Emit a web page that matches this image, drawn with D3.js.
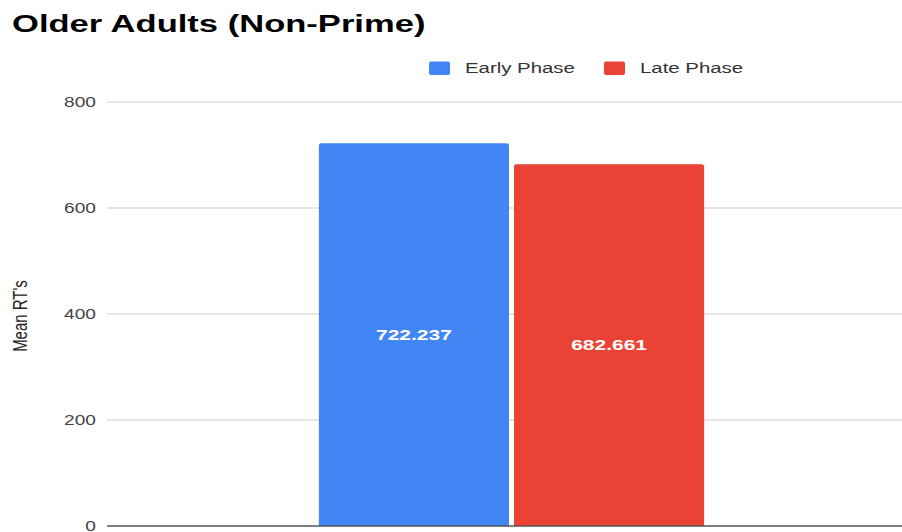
<!DOCTYPE html>
<html><head><meta charset="utf-8">
<script src="https://cdn.jsdelivr.net/npm/d3@7"></script>
<style>body{margin:0;background:#fff}svg{display:block}</style>
</head><body>
<svg id="c" width="902" height="532"></svg>
<script>
const categories = ["Older Adults (Non-Prime)"];
const seriesNames = ["Early Phase", "Late Phase"];
const seriesValues = [722.237, 682.661];
const seriesColors = ["#4285f4", "#ea4335"];
const yTicks = [0, 200, 400, 600, 800];
const titleText = "Older Adults (Non-Prime)";
const yAxisTitle = "Mean RT's";

(function () {
const svg = d3.select("#c");
const mLeft = 107, mRight = 916, mTop = 102, mBottom = 526;
const FONT = "Liberation Sans, Arial, sans-serif";

const y = d3.scaleLinear().domain([0, 800]).range([mBottom, mTop]);
const x0 = d3.scaleBand().domain(categories).range([mLeft, mRight]).paddingInner(0).paddingOuter(0.55);
const x1 = d3.scaleBand().domain(seriesNames).range([0, x0.bandwidth()]).paddingInner(0.0256);

// stretched text helper (reference is horizontally stretched)
function stext(parent, x, yy, str, opts) {
  const s = opts.sx || 1.38;
  const g = parent.append("g").attr("transform", `translate(${x},${yy}) scale(${s},1)` + (opts.rot ? ` rotate(${opts.rot})` : ""));
  return g.append("text").attr("x", 0).attr("y", 0)
    .attr("text-anchor", opts.anchor || "start")
    .attr("dy", opts.dy || null)
    .attr("font-family", FONT).attr("font-size", opts.size)
    .attr("font-weight", opts.bold ? "bold" : "normal")
    .attr("fill", opts.fill || "#000").text(str);
}

// title
stext(svg, 12, 32, titleText, {size: 24, bold: true, sx: 1.44, fill: "#000"});

// gridlines
svg.append("g").selectAll("line").data(yTicks.filter(d => d !== 0)).join("line")
  .attr("x1", mLeft).attr("x2", mRight).attr("y1", d => y(d)).attr("y2", d => y(d))
  .attr("stroke", "#cccccc").attr("stroke-width", 1);

// y tick labels
const tg = svg.append("g");
yTicks.forEach(d => stext(tg, 96, y(d), String(d), {size: 14.5, anchor: "end", dy: "0.36em", sx: 1.32, fill: "#444"}));

// y axis title
stext(svg, 20, 316, yAxisTitle, {size: 15, anchor: "middle", dy: "0.35em", rot: -90, sx: 1.38, fill: "#222"});

// bars
const r = 2.5;
function barPath(x, yTop, w, yBot) {
  return `M${x},${yBot}V${yTop + r}Q${x},${yTop} ${x + r},${yTop}H${x + w - r}Q${x + w},${yTop} ${x + w},${yTop + r}V${yBot}Z`;
}
const g = svg.append("g").attr("transform", `translate(${x0(categories[0])},0)`);
g.selectAll("path").data(seriesNames).join("path")
  .attr("d", (s, i) => barPath(x1(s), y(seriesValues[i]), x1.bandwidth(), y(0)))
  .attr("fill", (s, i) => seriesColors[i]);
seriesNames.forEach((s, i) => {
  stext(g, x1(s) + x1.bandwidth() / 2, (y(seriesValues[i]) + y(0)) / 2, seriesValues[i].toFixed(3),
    {size: 15, bold: true, anchor: "middle", dy: "0.35em", sx: 1.4, fill: "#fff"});
});

// baseline
svg.append("line").attr("x1", mLeft).attr("x2", mRight).attr("y1", y(0)).attr("y2", y(0))
  .attr("stroke", "#555").attr("stroke-width", 1.5);

// legend
const legendX = [429, 604];
const lg = svg.append("g");
seriesNames.forEach((s, i) => {
  lg.append("rect").attr("x", legendX[i]).attr("y", 61.5).attr("width", 21).attr("height", 13.5)
    .attr("rx", 2).attr("fill", seriesColors[i]);
  stext(lg, legendX[i] + 36, 68, s, {size: 15, dy: "0.35em", sx: 1.36, fill: "#333"});
});
})();
</script>
</body></html>
